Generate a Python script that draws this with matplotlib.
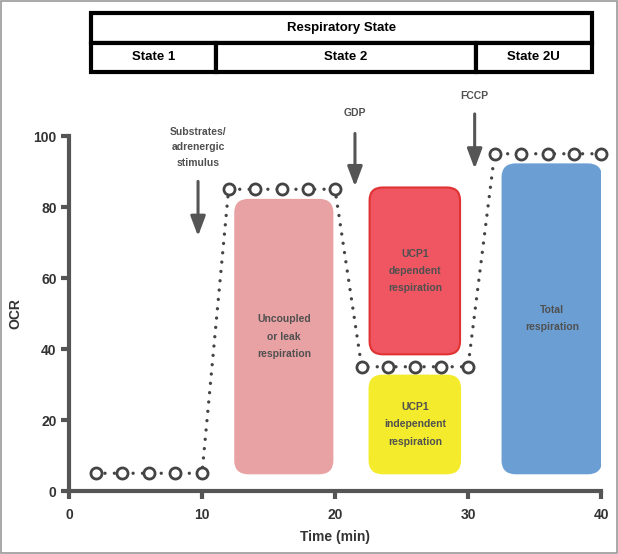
import numpy as np
import matplotlib.pyplot as plt
from matplotlib.patches import FancyBboxPatch, Rectangle

plt.rcParams['font.family'] = ['Liberation Sans', 'DejaVu Sans']

# data
time = [2, 4, 6, 8, 10, 12, 14, 16, 18, 20, 22, 24, 26, 28, 30, 32, 34, 36, 38, 40]
ocr = [5, 5, 5, 5, 5, 85, 85, 85, 85, 85, 35, 35, 35, 35, 35, 95, 95, 95, 95, 95]

# boxes: (x0, x1, y0, y1, face, edge, label)
boxes = [
    (12.5, 19.8, 5, 82, '#e9a2a4', '#e9a2a4', 'Uncoupled\nor leak\nrespiration'),
    (22.6, 29.4, 38.5, 85.5, '#ef5661', '#e03232', 'UCP1\ndependent\nrespiration'),
    (22.6, 29.4, 5, 32.5, '#f3eb2b', '#f3eb2b', 'UCP1\nindependent\nrespiration'),
    (32.6, 40.0, 5, 92, '#6b9fd4', '#6b9fd4', 'Total\nrespiration'),
]

# arrows: (x, y_start, y_end, label, label_y)
arrows = [
    (9.7, 88, 71, 'Substrates/\nadrenergic\nstimulus', 91),
    (21.5, 101.5, 85, 'GDP', 105),
    (30.5, 107, 90, 'FCCP', 110),
]

states = [('State 1', 1.65, 11.05), ('State 2', 11.05, 30.6), ('State 2U', 30.6, 39.3)]

gray = '#555555'
fig = plt.figure(figsize=(6.18, 5.54), dpi=100)
ax = fig.add_axes([0.1117, 0.1137, 0.8608, 0.6408])

for x0, x1, y0, y1, fc, ec, lab in boxes:
    p = FancyBboxPatch((x0, y0), x1 - x0, y1 - y0,
                       boxstyle='round,pad=0,rounding_size=1.0',
                       mutation_aspect=3.6, fc=fc, ec=ec, lw=1.5, zorder=1)
    ax.add_patch(p)
    ax.text((x0 + x1) / 2, (y0 + y1) / 2, lab, ha='center', va='center',
            fontsize=7.5, fontweight='bold', color='#505050', linespacing=1.9, zorder=2)

ax.plot(time, ocr, color='#444444', lw=2.4, linestyle=(0, (0.01, 2.8)),
        dash_capstyle='round', marker='o', markersize=8, markerfacecolor='white',
        markeredgecolor='#444444', markeredgewidth=2.0, zorder=3, clip_on=False)

for x, ys, ye, lab, ly in arrows:
    ax.annotate('', xy=(x, ye), xytext=(x, ys), annotation_clip=False,
                arrowprops=dict(arrowstyle='-|>,head_width=0.45,head_length=1.2',
                                color=gray, lw=2.2))
    ax.text(x, ly, lab, ha='center', va='bottom', fontsize=7.5, fontweight='bold',
            color='#505050', linespacing=1.7, clip_on=False)

ax.set_xlim(0, 40)
ax.set_ylim(0, 100)
ax.set_xticks([0, 10, 20, 30, 40])
ax.set_yticks([0, 20, 40, 60, 80, 100])
for s in ['top', 'right']:
    ax.spines[s].set_visible(False)
for s in ['left', 'bottom']:
    ax.spines[s].set_linewidth(3)
    ax.spines[s].set_color(gray)
ax.tick_params(width=3, length=6, color=gray, labelsize=10)
ax.tick_params(axis='x', pad=6)
ax.tick_params(axis='y', pad=3)
for t in ax.get_xticklabels() + ax.get_yticklabels():
    t.set_fontweight('bold')
    t.set_color('#333333')
ax.set_xlabel('Time (min)', fontsize=10, fontweight='bold', color='#333333', va='center')
ax.set_ylabel('OCR', fontsize=10, fontweight='bold', color='#333333', va='center')
ax.xaxis.set_label_coords(0.5, -0.13)
ax.yaxis.set_label_coords(-0.10, 0.5)

# table on top
tx = fig.add_axes([0.1117, 0.870, 0.8608, 0.1065])
tx.set_xlim(0, 40)
tx.set_ylim(0, 2)
tx.axis('off')
tx.add_patch(Rectangle((1.65, 1), 39.3 - 1.65, 1, fc='white', ec='black', lw=3, clip_on=False))
tx.text((1.65 + 39.3) / 2, 1.5, 'Respiratory State', ha='center', va='center',
        fontsize=9.5, fontweight='bold')
for lab, x0, x1 in states:
    tx.add_patch(Rectangle((x0, 0), x1 - x0, 1, fc='white', ec='black', lw=3, clip_on=False))
    tx.text((x0 + x1) / 2, 0.5, lab, ha='center', va='center', fontsize=9.5, fontweight='bold')

fig.patches.append(Rectangle((0.002, 0.002), 0.996, 0.996, transform=fig.transFigure,
                             fill=False, ec='#999999', lw=1.2))

fig.savefig('out.png', dpi=100)
